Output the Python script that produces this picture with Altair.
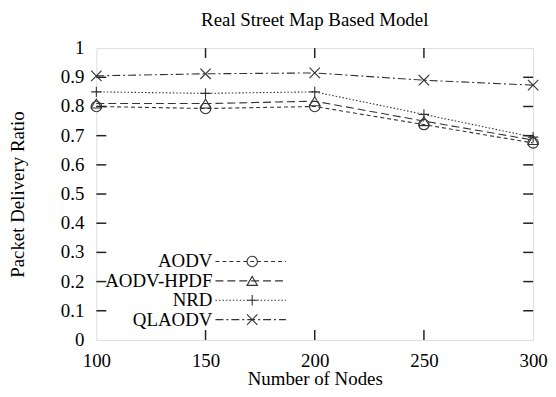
import altair as alt
import pandas as pd

nodes = [100, 150, 200, 250, 300]
series = ["AODV", "AODV-HPDF", "NRD", "QLAODV"]
aodv = [0.800, 0.793, 0.800, 0.738, 0.675]
hpdf = [0.810, 0.810, 0.818, 0.750, 0.685]
nrd = [0.850, 0.845, 0.850, 0.773, 0.695]
qlaodv = [0.905, 0.912, 0.915, 0.890, 0.873]
x_ticks = [100, 150, 200, 250, 300]
y_ticks = [0, 0.1, 0.2, 0.3, 0.4, 0.5, 0.6, 0.7, 0.8, 0.9, 1.0]

rows = []
for name, vals in zip(series, [aodv, hpdf, nrd, qlaodv]):
    for n, v in zip(nodes, vals):
        rows.append({"nodes": n, "value": v, "series": name})
df = pd.DataFrame(rows)
leg = pd.DataFrame({"series": series, "i": list(range(len(series)))})

W, H = 440, 294
FONT = "Liberation Serif"
INK = "#333333"
dash_range = [[4, 3], [8, 4], [1.5, 2], [8, 3, 2, 3]]
shape_range = ["circle", "triangle-up", "M-1,0L1,0M0,-1L0,1", "M-1,-1L1,1M-1,1L1,-1"]

xs = alt.Scale(domain=[100, 300], nice=False)
ys = alt.Scale(domain=[0, 1], nice=False)
dash = alt.StrokeDash("series:N", scale=alt.Scale(domain=series, range=dash_range), legend=None)
shape = alt.Shape("series:N", scale=alt.Scale(domain=series, range=shape_range), legend=None)

x_axis = alt.Axis(values=x_ticks, title="Number of Nodes", domain=False, ticks=False, tickSize=0,
                  grid=False, labelFont=FONT, labelFontSize=19, labelColor="black", labelPadding=12,
                  labelFlush=False, labelOverlap=False,
                  titleFont=FONT, titleFontSize=19, titleFontWeight="normal", titleColor="black",
                  titleX=W / 2, titleY=45, titleBaseline="alphabetic")
y_axis = alt.Axis(labels=False, title="Packet Delivery Ratio",
                  domain=False, ticks=False, tickSize=0, grid=False,
                  titleFont=FONT, titleFontSize=19, titleFontWeight="normal",
                  titleColor="black", titleX=-79, titleY=H / 2, titleAlign="center",
                  titleBaseline="middle", titleAngle=270)

lines = alt.Chart(df).mark_line(color=INK, strokeWidth=1.1).encode(
    x=alt.X("nodes:Q", scale=xs, axis=x_axis),
    y=alt.Y("value:Q", scale=ys, axis=y_axis),
    strokeDash=dash,
    detail="series:N",
)
points = alt.Chart(df).mark_point(filled=False, color=INK, strokeWidth=1.1, size=110, opacity=1).encode(
    x=alt.X("nodes:Q", scale=xs),
    y=alt.Y("value:Q", scale=ys),
    shape=shape,
)

ylab = alt.Chart(pd.DataFrame({"v": y_ticks})).transform_calculate(
    lab="format(datum.v, '~g')"
).mark_text(font=FONT, fontSize=19, align="right", baseline="middle", color="black").encode(
    y=alt.Y("v:Q", scale=ys), x=alt.value(-12), text="lab:N")

ytk = pd.DataFrame({"v": y_ticks[1:-1]})
xtk = pd.DataFrame({"v": x_ticks[1:-1]})
tick_style = dict(color="#222222", strokeWidth=1.5)
yl = alt.Chart(ytk).mark_rule(**tick_style).encode(
    y=alt.Y("v:Q", scale=ys), x=alt.value(0), x2=alt.value(10))
yr = alt.Chart(ytk).mark_rule(**tick_style).encode(
    y=alt.Y("v:Q", scale=ys), x=alt.value(W - 10), x2=alt.value(W))
xb = alt.Chart(xtk).mark_rule(**tick_style).encode(
    x=alt.X("v:Q", scale=xs), y=alt.value(H), y2=alt.value(H - 10))
xt = alt.Chart(xtk).mark_rule(**tick_style).encode(
    x=alt.X("v:Q", scale=xs), y=alt.value(0), y2=alt.value(10))

legbase = alt.Chart(leg).transform_calculate(ly="215 + datum.i * 19.5")
leg_text = legbase.mark_text(font=FONT, fontSize=19, align="right", baseline="middle", color="black").encode(
    x=alt.value(117), y=alt.Y("ly:Q", scale=None), text="series:N")
leg_line = legbase.mark_rule(color=INK, strokeWidth=1.1).encode(
    x=alt.value(120), x2=alt.value(191), y=alt.Y("ly:Q", scale=None), strokeDash=dash)
leg_pt = legbase.mark_point(filled=False, color=INK, strokeWidth=1.1, size=110, opacity=1).encode(
    x=alt.value(157), y=alt.Y("ly:Q", scale=None), shape=shape)

chart = alt.layer(lines, points, yl, yr, xb, xt, ylab, leg_line, leg_pt, leg_text).properties(
    width=W, height=H,
    title=alt.TitleParams("Real Street Map Based Model", font=FONT, fontSize=19, fontWeight="normal",
                          color="black", anchor="middle", frame="group", offset=-6,
                          baseline="alphabetic"),
    autosize=alt.AutoSizeParams(type="none"),
    padding={"left": 89, "top": 39, "right": 15, "bottom": 48},
).configure_view(stroke="#222222", strokeWidth=1.5).configure_axis(
    labelOverlap=False, labelFlush=False
).configure(background="white")

chart.save("out.html", embed_options={"renderer": "svg", "actions": False})
